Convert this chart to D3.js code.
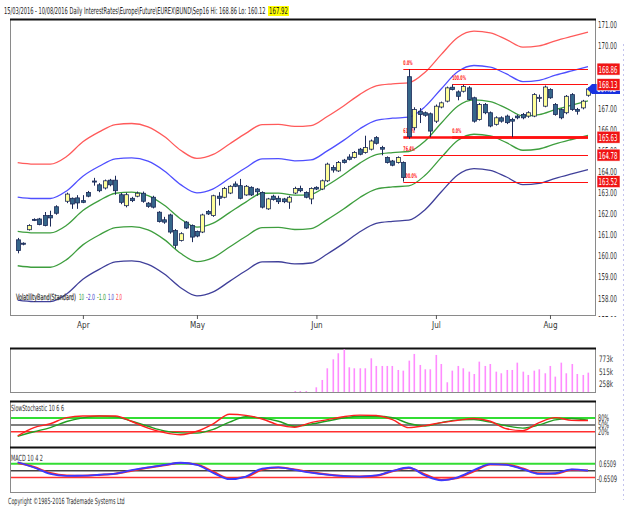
<!DOCTYPE html>
<html>
<head>
<meta charset="utf-8">
<script src="https://cdn.jsdelivr.net/npm/d3@7"></script>
<style>
  body { margin: 0; background: #fff; }
  text { font-family: "Liberation Sans Narrow", "Arial Narrow", "DejaVu Sans Condensed", "Liberation Sans", sans-serif; }
</style>
</head>
<body>
<div id="chart-area"></div>
<script>
/*
*    Bund Sep16 daily chart
*/

// ---- data ----
var months = ["Apr", "May", "Jun", "Jul", "Aug"];
var monthStart = [12, 33, 55, 77, 98];   // candle index of first trading day

// daily candles, index 8 is an empty slot (Good Friday)
var opens = [160.76,160.60,161.24,161.73,161.75,161.91,161.91,162.33,null,162.59,
  162.73,162.75,162.62,163.01,163.55,163.37,163.22,163.59,163.59,162.90,
  162.38,162.73,162.83,162.97,162.50,162.78,162.07,161.71,161.94,161.20,
  160.73,161.60,161.44,161.16,161.13,162.10,161.91,162.83,162.78,162.98,
  163.41,163.33,162.89,163.25,163.17,163.01,162.23,162.83,162.73,162.70,
  162.55,162.98,163.20,163.01,162.70,163.25,163.17,163.56,164.19,164.03,
  164.54,164.69,164.67,165.06,164.90,165.06,165.61,165.14,164.67,164.50,
  164.43,164.43,168.50,166.08,166.86,166.79,166.74,166.39,167.06,167.34,
  168.00,167.78,167.81,167.97,167.50,166.47,167.18,166.79,166.24,166.55,
  166.63,166.47,166.63,166.71,166.63,166.63,167.48,167.10,167.89,167.18,
  166.94,166.79,167.65,166.94,167.02,167.62];
var highs = [160.85,160.64,161.50,161.78,161.80,162.08,162.14,162.40,null,163.00,
  162.77,162.88,162.88,163.08,163.70,163.45,163.62,163.65,163.80,162.98,
  163.00,162.80,163.05,163.05,162.55,162.85,162.12,161.85,162.00,161.27,
  161.12,161.65,161.49,161.20,162.00,162.17,162.90,163.02,163.27,163.35,
  163.53,163.65,163.36,163.30,163.22,163.06,162.75,162.90,162.85,162.75,
  162.85,163.28,163.33,163.06,163.25,163.30,163.62,164.42,164.30,164.50,
  164.60,164.82,164.97,165.12,165.70,165.52,165.68,165.22,164.72,164.55,
  164.72,164.48,168.86,167.05,167.01,166.85,166.80,167.18,167.32,168.03,
  168.13,167.85,168.12,168.05,167.55,167.25,167.25,166.85,166.62,166.62,
  166.70,166.55,166.70,166.78,166.86,167.72,167.65,168.08,167.95,167.25,
  167.00,167.63,167.72,167.02,167.40,168.00];
var lows = [160.12,160.50,161.20,161.65,161.45,161.40,161.39,161.95,null,162.50,
  162.23,162.23,162.50,162.78,163.33,163.02,163.15,163.30,162.90,162.45,
  162.30,162.55,162.78,162.52,162.28,162.25,161.58,161.52,161.05,160.34,
  160.68,161.27,160.65,160.88,161.08,161.94,161.85,162.39,162.73,162.93,
  163.26,162.68,162.85,162.84,162.85,162.25,162.18,162.62,162.46,162.50,
  162.23,162.93,163.02,162.73,162.45,163.12,163.12,163.50,163.95,163.98,
  164.38,164.53,164.62,164.77,164.85,165.00,165.28,164.77,164.38,164.25,
  164.38,163.52,165.55,165.95,166.30,166.60,165.63,166.30,167.00,167.28,
  167.85,167.38,167.75,167.38,166.32,166.42,166.72,166.10,166.18,166.32,
  166.25,165.63,166.48,166.48,166.55,166.58,167.30,167.05,167.45,166.65,
  166.48,166.72,166.88,166.70,166.95,167.55];
var closes = [160.25,160.55,161.44,161.69,161.49,161.44,161.80,162.02,null,162.93,
  162.46,162.51,162.54,162.83,163.50,163.09,163.56,163.37,163.09,162.54,
  162.90,162.62,162.97,162.59,162.35,162.31,161.63,161.60,161.13,160.50,
  161.05,161.32,160.89,160.94,161.94,161.99,162.85,162.73,163.20,163.30,
  163.30,162.73,163.30,162.89,163.04,162.31,162.70,162.67,162.57,162.57,
  162.78,163.20,163.09,162.78,163.20,163.17,163.56,164.35,164.07,164.43,
  164.43,164.58,164.90,164.82,165.14,165.45,165.34,165.06,164.43,164.30,
  164.67,163.72,165.65,166.94,166.71,166.67,165.92,167.10,167.26,167.97,
  167.89,167.57,168.04,167.42,166.39,167.18,166.79,166.16,166.55,166.39,
  166.32,166.39,166.55,166.55,166.79,167.65,167.52,168.01,167.50,166.71,
  166.55,167.57,166.94,166.86,167.34,167.92];

// volatility band: middle line sampled every 3rd candle, band step in price
var bandMid = [161.16,161.09,161.09,161.45,162.15,162.62,162.97,163.02,162.86,162.40,
  161.75,161.36,161.55,162.05,162.55,162.97,162.98,162.88,162.92,163.35,
  163.85,164.40,164.80,164.90,164.95,165.45,166.30,167.10,167.40,167.32,
  167.00,166.64,166.70,166.94,167.15,167.35];
var bandStep = 1.63;
var bandMult = [2, 1, 0, -1, -2];
var bandColors = ["#ff5a5a", "#4f4fff", "#3e9e3e", "#3e9e3e", "#40409a"];

// fibonacci retracements
var fibLevels = [168.86, 165.63, 164.78, 163.52];
var fibNames = ["0.0%", "61.8%", "76.4%", "100.0%"];
var fib2Levels = [168.13, 165.63];
var fib2Names = ["100.0%", "0.0%"];
var fibStart = 71, fib2Start = 80;

// volume (thousands), starts at candle 51
var volumeFrom = 51;
var volume = [110,110,110,0,188,341,585,773,899,982,606,585,585,585,794,634,634,634,634,
  550,536,745,885,655,564,564,864,675,293,536,634,585,515,466,724,634,675,515,481,
  550,550,703,515,446,536,564,481,634,411,703,481,675,466,446,494];

// slow stochastic and MACD, sampled every 3rd candle
var stochRed = [2,38,55,82,89,89,89,65,36,16,7,22,55,97,92,76,50,40,60,73,86,93,91,73,
  38,47,60,70,78,66,33,25,60,82,70,69];
var stochGreen = [0,20,38,65,81,89,86,66,44,24,15,14,30,62,86,80,66,44,53,67,80,88,88,82,
  56,45,60,72,74,62,46,36,50,72,78,71];
var macdBlue = [0.80,0.30,-0.30,-0.48,-0.47,-0.38,-0.27,0.05,0.32,0.54,0.75,0.55,-0.20,
  -0.80,-0.55,0.20,0.32,0.08,-0.18,-0.38,-0.52,-0.55,-0.45,-0.02,0.30,-0.45,-0.90,
  -0.62,0.05,0.62,0.55,0.15,-0.30,-0.24,0.12,0.00];
var macdRed = [0.72,0.35,-0.22,-0.45,-0.47,-0.40,-0.28,0.00,0.28,0.52,0.72,0.58,-0.10,
  -0.72,-0.60,0.10,0.30,0.12,-0.15,-0.35,-0.50,-0.55,-0.48,-0.05,0.25,-0.35,-0.85,
  -0.68,-0.05,0.58,0.58,0.20,-0.25,-0.28,0.08,0.02];
var sampleIdx = d3.range(0, 106, 3);

var lastPrice = 167.92;
var boxVals = [168.86, 168.13, 165.63, 164.78, 163.52];

// ---- layout ----
var width = 626, height = 507;
var left = 10, right = 595;

var svg = d3.select("#chart-area").append("svg")
    .attr("width", width)
    .attr("height", height);

// Scales
var x = d3.scaleLinear().domain([0, 105]).range([17.7, 588]);
var y = d3.scaleLinear().domain([158, 171]).range([298, 24]);
var yVol = d3.scaleLinear().domain([0, 773]).range([396.3, 359.3]);
var yStoch = d3.scaleLinear().domain([0, 100]).range([436.3, 413.5]);
var yMacd = d3.scaleLinear().domain([-0.6509, 0.6509]).range([477.6, 463.8]);

// squeeze a text element horizontally to a given width
function squeeze(t, w) {
    var w0 = t.node().getComputedTextLength();
    if (w && w0 > 0) t.attr("transform", (t.attr("transform") || "") + " scale(" + (w / w0) + ",1)");
    return t;
}

// small helper for condensed chart text
function label(g, px, py, str, w, size, fill) {
    var t = g.append("text")
        .attr("transform", "translate(" + px + "," + py + ")")
        .attr("font-size", size || 9)
        .attr("fill", fill || "#222")
        .text(str);
    return squeeze(t, w);
}

function panel(top, bottom) {
    svg.append("rect")
        .attr("x", left + 0.5).attr("y", top + 0.5)
        .attr("width", right - left).attr("height", bottom - top)
        .attr("fill", "none").attr("stroke", "#8a8a8a");
    svg.append("line")
        .attr("x1", left).attr("x2", right + 1)
        .attr("y1", top + 0.5).attr("y2", top + 0.5)
        .attr("stroke", "#111").attr("stroke-width", 2);
}

// title
label(svg, 4, 14, "15/03/2016 - 10/08/2016   Daily  InterestRates\\Europe\\Future\\EUREX\\BUND\\Sep16  Hi: 168.86  Lo: 160.12", 262, 9.5);
svg.append("rect").attr("x", 268).attr("y", 6).attr("width", 21).attr("height", 10).attr("fill", "#ffff00");
label(svg, 269, 14, "167.92", 19, 9.5);

// faint dotted line on the far right
svg.append("line")
    .attr("x1", 623.5).attr("x2", 623.5).attr("y1", 44).attr("y2", 500)
    .attr("stroke", "#c4c4ee").attr("stroke-dasharray", "2,3");

// ---- main price panel ----
panel(19, 315);

svg.append("clipPath").attr("id", "clipMain")
  .append("rect").attr("x", left + 1).attr("y", 20).attr("width", right - left - 1).attr("height", 295);
svg.append("clipPath").attr("id", "clipAxis")
  .append("rect").attr("x", right + 1).attr("y", 0).attr("width", 30).attr("height", 317);
var g = svg.append("g").attr("clip-path", "url(#clipMain)");

// right axis
var yAxisCall = d3.axisRight(y)
    .tickValues(d3.range(157, 172))
    .tickFormat(d3.format(".2f"))
    .tickSize(0)
    .tickPadding(0);
var yAxis = svg.append("g")
    .attr("clip-path", "url(#clipAxis)")
  .append("g")
    .attr("class", "y axis")
    .attr("transform", "translate(" + (right + 3) + ",0)")
    .call(yAxisCall);
yAxis.select(".domain").remove();
yAxis.selectAll("text")
    .attr("font-size", 9.5)
    .attr("fill", "#333")
    .each(function() { squeeze(d3.select(this), 19); });

// month axis
var xAxisCall = d3.axisBottom(x)
    .tickValues(monthStart)
    .tickFormat(function(d, i) { return months[i]; })
    .tickSize(4)
    .tickPadding(2);
var xAxis = svg.append("g")
    .attr("class", "x axis")
    .attr("transform", "translate(0,315)")
    .call(xAxisCall);
xAxis.select(".domain").remove();
xAxis.selectAll("line").attr("stroke", "#555");
xAxis.selectAll("text").attr("font-size", 9.5).attr("fill", "#333")
    .each(function() { var t = d3.select(this); squeeze(t, t.node().getComputedTextLength() * 0.85); });

// volatility bands
var bandLine = d3.line()
    .x(function(d) { return x(d[0]); })
    .y(function(d) { return y(d[1]); })
    .curve(d3.curveMonotoneX);
bandMult.forEach(function(m, k) {
    var pts = bandMid.map(function(v, j) { return [sampleIdx[j], v + m * bandStep]; });
    g.append("path")
        .attr("d", bandLine(pts))
        .attr("fill", "none")
        .attr("stroke", bandColors[k])
        .attr("stroke-width", 1.3);
});

// fibonacci lines
function fibs(levels, names, start) {
    levels.forEach(function(v, k) {
        g.append("line")
            .attr("x1", x(start)).attr("x2", x(105))
            .attr("y1", Math.round(y(v)) + 0.5).attr("y2", Math.round(y(v)) + 0.5)
            .attr("stroke", "#ff1010")
            .attr("stroke-width", v === 165.63 ? 2.4 : 1.2);
        label(g, x(start), y(v) - 4, names[k], names[k].length * 2.1, 6.5, "#ff2020")
            .attr("font-weight", "bold");
    });
}
fibs(fibLevels, fibNames, fibStart);
fibs(fib2Levels, fib2Names, fib2Start);

// candles
var idx = d3.range(opens.length).filter(function(i) { return opens[i] !== null; });
var candle = g.selectAll(".candle").data(idx).enter().append("g").attr("class", "candle");
candle.append("line")
    .attr("x1", function(i) { return Math.round(x(i)) + 0.5; })
    .attr("x2", function(i) { return Math.round(x(i)) + 0.5; })
    .attr("y1", function(i) { return y(highs[i]); })
    .attr("y2", function(i) { return y(lows[i]); })
    .attr("stroke", "#1c2a58");
candle.append("rect")
    .attr("x", function(i) { return Math.round(x(i)) - 1.5; })
    .attr("y", function(i) { return y(Math.max(opens[i], closes[i])); })
    .attr("width", 4)
    .attr("height", function(i) { return Math.max(1, Math.abs(y(opens[i]) - y(closes[i]))); })
    .attr("fill", function(i) { return closes[i] >= opens[i] ? "#ffff99" : "#35668a"; })
    .attr("stroke", "#1c2a58")
    .attr("stroke-width", 0.8);

// band legend
var leg = svg.append("g");
label(leg, 16, 300, "VolatilityBand(Standard)", 60, 8.5, "#555").attr("stroke", "#222").attr("stroke-width", 0.25);
label(leg, 79, 300, "10", 5, 8.5, "#2e9a2e");
label(leg, 86, 300, "-2.0", 9, 8.5, "#3d3dcc");
label(leg, 97, 300, "-1.0", 9, 8.5, "#2e9a2e");
label(leg, 108, 300, "1.0", 6, 8.5, "#3d3dcc");
label(leg, 116, 300, "2.0", 6, 8.5, "#ff3030");

// price boxes on the right
var marker = svg.append("g");
var ym = y(lastPrice);
marker.append("path")
    .attr("d", "M587," + ym + "L592," + (ym - 5) + "L620," + (ym - 5) + "L620," + (ym + 5) + "L592," + (ym + 5) + "Z")
    .attr("fill", "#1832e0");
label(marker, 597, ym + 3.5, lastPrice.toFixed(2), 19, 9, "#fff");

boxVals.forEach(function(v) {
    var yy = y(v);
    marker.append("rect")
        .attr("x", 597).attr("y", yy - 6).attr("width", 23).attr("height", 12)
        .attr("fill", "#f01414").attr("stroke", "#fff").attr("stroke-width", 0.6);
    label(marker, 598.5, yy + 3.5, v.toFixed(2), 19, 9.5, "#fff");
});

// ---- volume panel ----
panel(348, 392);
svg.selectAll(".vol").data(volume).enter().append("rect")
    .attr("class", "vol")
    .attr("x", function(v, j) { return Math.round(x(volumeFrom + j)) - 0.5; })
    .attr("y", function(v) { return Math.min(391, yVol(v)); })
    .attr("width", 1.6)
    .attr("height", function(v) { return v > 0 ? Math.max(1, 392 - yVol(v)) : 0; })
    .attr("fill", "#ff8cff");
[773, 515, 258].forEach(function(v) {
    label(svg, 599, yVol(v) + 3, v + "k", 14, 9, "#333");
});

// ---- slow stochastic panel ----
panel(401, 447);
[[80, "#33dd33", 2], [50, "#555", 1.5], [20, "#ff3030", 1.5]].forEach(function(l) {
    svg.append("line")
        .attr("x1", left + 1).attr("x2", right)
        .attr("y1", yStoch(l[0])).attr("y2", yStoch(l[0]))
        .attr("stroke", l[1]).attr("stroke-width", l[2]);
    label(svg, 598, yStoch(l[0]) + 3, l[0] + "%", 11, 9, "#333");
});
var stochLine = d3.line()
    .x(function(d, j) { return x(sampleIdx[j]); })
    .y(function(d) { return yStoch(d); })
    .curve(d3.curveMonotoneX);
svg.append("path").attr("d", stochLine(stochGreen))
    .attr("fill", "none").attr("stroke", "#22a022").attr("stroke-width", 1.4);
svg.append("path").attr("d", stochLine(stochRed))
    .attr("fill", "none").attr("stroke", "#ff2020").attr("stroke-width", 1.4);
label(svg, 11, 411, "SlowStochastic 10 6 6", 53, 8.5, "#333");

// ---- MACD panel ----
panel(447, 492);
[[0.6509, "#33dd33", 2], [0, "#444", 1.5], [-0.6509, "#ff3030", 1.5]].forEach(function(l) {
    svg.append("line")
        .attr("x1", left + 1).attr("x2", right)
        .attr("y1", yMacd(l[0])).attr("y2", yMacd(l[0]))
        .attr("stroke", l[1]).attr("stroke-width", l[2]);
});
label(svg, 599, yMacd(0.6509) + 3, "0.6509", 17, 9, "#333");
label(svg, 597, yMacd(-0.6509) + 4, "-0.6509", 20, 9, "#333");
var macdLine = d3.line()
    .x(function(d, j) { return x(sampleIdx[j]); })
    .y(function(d) { return yMacd(d); })
    .curve(d3.curveMonotoneX);
svg.append("path").attr("d", macdLine(macdRed))
    .attr("fill", "none").attr("stroke", "#ff2a2a").attr("stroke-width", 2);
svg.append("path").attr("d", macdLine(macdBlue))
    .attr("fill", "none").attr("stroke", "#3a3aff").attr("stroke-width", 1.8);
label(svg, 11, 461, "MACD 10 4 2", 32, 8.5, "#333");

// copyright
label(svg, 8, 504, "Copyright \u00a91985-2016 Trademade Systems Ltd", 117, 8.5, "#333");
</script>
</body>
</html>
